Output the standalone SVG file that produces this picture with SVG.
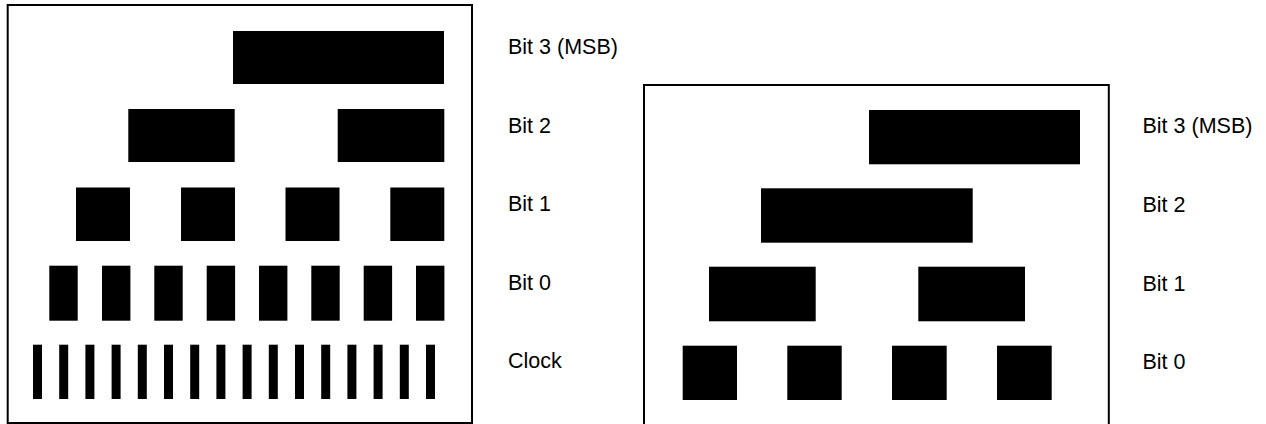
<svg xmlns="http://www.w3.org/2000/svg" width="1266" height="424" viewBox="0 0 1266 424">
<style>
.frame{fill:none;stroke:#000;stroke-width:2}
.bar{fill:#000}
.lbl{font-family:"Liberation Sans",Arial,sans-serif;font-size:21.5px;fill:#000}
</style>
<rect x="0" y="0" width="1266" height="424" fill="#fff"/>
<g id="left-diagram">
  <rect class="frame" x="7.7" y="5" width="464.3" height="418"/>
  <g id="left-bit3">
    <rect class="bar" x="233" y="31" width="211" height="53"/>
    <text class="lbl" x="508" y="54">Bit 3 (MSB)</text>
  </g>
  <g id="left-bit2">
    <rect class="bar" x="128.3" y="109" width="106.4" height="53"/>
    <rect class="bar" x="337.7" y="109" width="106.6" height="53"/>
    <text class="lbl" x="508" y="132.5">Bit 2</text>
  </g>
  <g id="left-bit1">
    <rect class="bar" x="76" y="187.5" width="54" height="53.5"/>
    <rect class="bar" x="181" y="187.5" width="54" height="53.5"/>
    <rect class="bar" x="285.5" y="187.5" width="54" height="53.5"/>
    <rect class="bar" x="390.3" y="187.5" width="54" height="53.5"/>
    <text class="lbl" x="508" y="211">Bit 1</text>
  </g>
  <g id="left-bit0">
    <rect class="bar" x="49.3" y="265.7" width="28.4" height="55"/>
    <rect class="bar" x="102" y="265.7" width="28.4" height="55"/>
    <rect class="bar" x="154.3" y="265.7" width="28.4" height="55"/>
    <rect class="bar" x="206.7" y="265.7" width="28.4" height="55"/>
    <rect class="bar" x="259" y="265.7" width="28.4" height="55"/>
    <rect class="bar" x="311.3" y="265.7" width="28.4" height="55"/>
    <rect class="bar" x="363.7" y="265.7" width="28.4" height="55"/>
    <rect class="bar" x="416" y="265.7" width="28.4" height="55"/>
    <text class="lbl" x="508" y="289.5">Bit 0</text>
  </g>
  <g id="left-clock">
    <rect class="bar" x="33" y="344.7" width="9" height="54.3"/>
    <rect class="bar" x="59.2" y="344.7" width="9" height="54.3"/>
    <rect class="bar" x="85.4" y="344.7" width="9" height="54.3"/>
    <rect class="bar" x="111.6" y="344.7" width="9" height="54.3"/>
    <rect class="bar" x="137.8" y="344.7" width="9" height="54.3"/>
    <rect class="bar" x="164" y="344.7" width="9" height="54.3"/>
    <rect class="bar" x="190.2" y="344.7" width="9" height="54.3"/>
    <rect class="bar" x="216.4" y="344.7" width="9" height="54.3"/>
    <rect class="bar" x="242.6" y="344.7" width="9" height="54.3"/>
    <rect class="bar" x="268.8" y="344.7" width="9" height="54.3"/>
    <rect class="bar" x="295" y="344.7" width="9" height="54.3"/>
    <rect class="bar" x="321.2" y="344.7" width="9" height="54.3"/>
    <rect class="bar" x="347.4" y="344.7" width="9" height="54.3"/>
    <rect class="bar" x="373.6" y="344.7" width="9" height="54.3"/>
    <rect class="bar" x="399.8" y="344.7" width="9" height="54.3"/>
    <rect class="bar" x="426" y="344.7" width="9" height="54.3"/>
    <text class="lbl" x="508" y="368">Clock</text>
  </g>
</g>
<g id="right-diagram">
  <rect class="frame" x="644" y="85" width="464.8" height="350"/>
  <g id="right-bit3">
    <rect class="bar" x="869" y="110" width="211" height="54.3"/>
    <text class="lbl" x="1142.5" y="133.3">Bit 3 (MSB)</text>
  </g>
  <g id="right-bit2">
    <rect class="bar" x="761" y="188.3" width="211.7" height="54.4"/>
    <text class="lbl" x="1142.5" y="212">Bit 2</text>
  </g>
  <g id="right-bit1">
    <rect class="bar" x="709" y="266.7" width="106.7" height="54.6"/>
    <rect class="bar" x="918.3" y="266.7" width="106.7" height="54.6"/>
    <text class="lbl" x="1142.5" y="290.5">Bit 1</text>
  </g>
  <g id="right-bit0">
    <rect class="bar" x="682.7" y="345.7" width="54.3" height="54.3"/>
    <rect class="bar" x="787.3" y="345.7" width="54.4" height="54.3"/>
    <rect class="bar" x="892" y="345.7" width="54.7" height="54.3"/>
    <rect class="bar" x="997" y="345.7" width="54.7" height="54.3"/>
    <text class="lbl" x="1142.5" y="368.5">Bit 0</text>
  </g>
</g>
<g id="connectors"/>
</svg>
